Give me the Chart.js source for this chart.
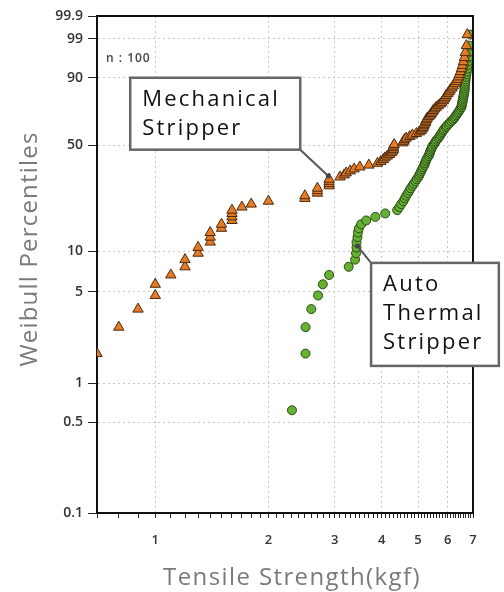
<!DOCTYPE html>
<html>
<head>
<meta charset="utf-8">
<script src="https://cdn.jsdelivr.net/npm/chart.js@4.4.1/dist/chart.umd.min.js"></script>
<style>
  html, body { margin: 0; padding: 0; background: #fff; }
  #wrap { width: 504px; height: 592px; }
</style>
</head>
<body>
<div id="wrap"><canvas id="weibullPlot"></canvas></div>
<script>
// sorted tensile strengths (kgf), n = 100 per group
const mechStrength = [
  0.65, 0.70, 0.80, 0.90, 1.00, 1.00, 1.10, 1.20, 1.20, 1.30,
  1.30, 1.40, 1.40, 1.40, 1.50, 1.50, 1.60, 1.60, 1.60, 1.60,
  1.70, 1.80, 2.00, 2.50, 2.50, 2.70, 2.70, 2.70, 2.90, 2.90,
  2.90, 2.90, 3.10, 3.18, 3.22, 3.30, 3.38, 3.50, 3.70, 3.90,
  3.98, 4.04, 4.08, 4.14, 4.20, 4.25, 4.28, 4.30, 4.30, 4.30,
  4.32, 4.55, 4.58, 4.60, 4.65, 4.75, 4.83, 4.95, 5.04, 5.10,
  5.13, 5.16, 5.18, 5.20, 5.23, 5.24, 5.26, 5.29, 5.34, 5.39,
  5.42, 5.46, 5.49, 5.54, 5.59, 5.66, 5.73, 5.78, 5.84, 5.87,
  5.91, 5.94, 6.00, 6.05, 6.09, 6.15, 6.20, 6.26, 6.32, 6.36,
  6.40, 6.44, 6.48, 6.52, 6.56, 6.60, 6.64, 6.68, 6.72, 6.76
];
const mechPercent = [
  0.70, 1.69, 2.69, 3.69, 4.68, 5.68, 6.67, 7.67, 8.67, 9.66,
  10.66, 11.65, 12.65, 13.65, 14.64, 15.64, 16.63, 17.63, 18.63, 19.62,
  20.62, 21.61, 22.61, 23.61, 24.60, 25.60, 26.59, 27.59, 28.59, 29.58,
  30.58, 31.57, 32.57, 33.57, 34.56, 35.56, 36.55, 37.55, 38.55, 39.54,
  40.54, 41.53, 42.53, 43.53, 44.52, 45.52, 46.51, 47.51, 48.51, 49.50,
  50.50, 51.49, 52.49, 53.49, 54.48, 55.48, 56.47, 57.47, 58.47, 59.46,
  60.46, 61.45, 62.45, 63.45, 64.44, 65.44, 66.43, 67.43, 68.43, 69.42,
  70.42, 71.41, 72.41, 73.41, 74.40, 75.40, 76.39, 77.39, 78.39, 79.38,
  80.38, 81.37, 82.37, 83.37, 84.36, 85.36, 86.35, 87.35, 88.35, 89.34,
  90.34, 91.33, 92.33, 93.33, 94.32, 95.32, 96.31, 97.31, 98.31, 99.30
];
const autoStrength = [
  2.31, 2.51, 2.51, 2.60, 2.71, 2.79, 2.90, 3.27, 3.40, 3.42,
  3.43, 3.43, 3.45, 3.46, 3.48, 3.53, 3.64, 3.85, 4.09, 4.40,
  4.46, 4.51, 4.57, 4.61, 4.65, 4.70, 4.74, 4.78, 4.83, 4.87,
  4.92, 4.96, 5.01, 5.04, 5.07, 5.10, 5.13, 5.16, 5.20, 5.21,
  5.24, 5.26, 5.29, 5.33, 5.36, 5.37, 5.39, 5.42, 5.44, 5.46,
  5.51, 5.54, 5.57, 5.61, 5.66, 5.70, 5.73, 5.77, 5.80, 5.84,
  5.87, 5.93, 5.96, 6.02, 6.07, 6.13, 6.19, 6.24, 6.28, 6.32,
  6.36, 6.40, 6.44, 6.48, 6.52, 6.53, 6.54, 6.56, 6.57, 6.58,
  6.60, 6.61, 6.62, 6.64, 6.65, 6.65, 6.66, 6.67, 6.68, 6.69,
  6.70, 6.72, 6.74, 6.76, 6.77, 6.78, 6.80, 6.82, 6.84, 6.89
];
const autoPercent = [
  0.62, 1.69, 2.69, 3.69, 4.68, 5.68, 6.67, 7.67, 8.67, 9.66,
  10.66, 11.65, 12.65, 13.65, 14.64, 15.64, 16.63, 17.63, 18.63, 19.62,
  20.62, 21.61, 22.61, 23.61, 24.60, 25.60, 26.59, 27.59, 28.59, 29.58,
  30.58, 31.57, 32.57, 33.57, 34.56, 35.56, 36.55, 37.55, 38.55, 39.54,
  40.54, 41.53, 42.53, 43.53, 44.52, 45.52, 46.51, 47.51, 48.51, 49.50,
  50.50, 51.49, 52.49, 53.49, 54.48, 55.48, 56.47, 57.47, 58.47, 59.46,
  60.46, 61.45, 62.45, 63.45, 64.44, 65.44, 66.43, 67.43, 68.43, 69.42,
  70.42, 71.41, 72.41, 73.41, 74.40, 75.40, 76.39, 77.39, 78.39, 79.38,
  80.38, 81.37, 82.37, 83.37, 84.36, 85.36, 86.35, 87.35, 88.35, 89.34,
  90.34, 91.33, 92.33, 93.33, 94.32, 95.32, 96.31, 97.31, 98.31, 99.30
];

const yTicks = [0.1, 0.5, 1, 5, 10, 50, 90, 99, 99.9];
const yTickLabels = ["0.1", "0.5", "1", "5", "10", "50", "90", "99", "99.9"];
const xTickLabels = [1, 2, 3, 4, 5, 6, 7];

// minor tick marks every 0.1 kgf from 0.7 to 7
const xMinorTicks = [];
for (let t = 7; t <= 70; t++) xMinorTicks.push(t / 10);

const callouts = [
  { lines: ["Mechanical", "Stripper"], box: [0.858, 90, 2.43, 47.3], corner: "br", target: [2.886, 33.1] },
  { lines: ["Auto", "Thermal", "Stripper"], box: [3.75, 8.2, 8.2, 1.36], corner: "tl", target: [3.45, 10.9] }
];

// Weibull probability axis: linear in ln(-ln(1-p))
const weib = p => Math.log(-Math.log(1 - p / 100));

class WeibullScale extends Chart.Scale {
  static id = "weibull";
  static defaults = {};
  determineDataLimits() {
    this.min = this.options.min;
    this.max = this.options.max;
  }
  buildTicks() {
    return yTicks.map(v => ({ value: v }));
  }
  getLabelForValue(v) {
    return String(v);
  }
  configure() {
    super.configure();
    this._lo = weib(this.min);
    this._hi = weib(this.max);
  }
  getPixelForValue(v) {
    return this.getPixelForDecimal((weib(v) - this._lo) / (this._hi - this._lo));
  }
  getValueForPixel(px) {
    const w = this._lo + this.getDecimalForPixel(px) * (this._hi - this._lo);
    return 100 * (1 - Math.exp(-Math.exp(w)));
  }
}
Chart.register(WeibullScale);

const decor = {
  id: "decor",
  afterDraw(chart) {
    const { ctx, chartArea: a, scales: { x, y } } = chart;
    ctx.save();

    // top and right frame
    ctx.strokeStyle = "#111";
    ctx.lineWidth = 2;
    ctx.beginPath();
    ctx.moveTo(a.left, a.top);
    ctx.lineTo(a.right, a.top);
    ctx.lineTo(a.right, a.bottom);
    ctx.stroke();

    // sample size
    ctx.fillStyle = "#444";
    ctx.font = "600 12px 'Open Sans'";
    ctx.letterSpacing = "1px";
    ctx.textBaseline = "alphabetic";
    ctx.textAlign = "left";
    ctx.fillText("n : 100", a.left + 9, a.top + 46);

    // callout boxes
    callouts.forEach(c => {
      const l = x.getPixelForValue(c.box[0]);
      const t = y.getPixelForValue(c.box[1]);
      const r = x.getPixelForValue(c.box[2]);
      const b = y.getPixelForValue(c.box[3]);
      const cx = c.corner === "br" ? r : l;
      const cy = c.corner === "br" ? b : t;
      const tx = x.getPixelForValue(c.target[0]);
      const ty = y.getPixelForValue(c.target[1]);

      ctx.strokeStyle = "#555";
      ctx.lineWidth = 2;
      ctx.beginPath();
      ctx.moveTo(cx, cy);
      ctx.lineTo(tx, ty);
      ctx.stroke();
      ctx.fillStyle = "#444";
      ctx.beginPath();
      ctx.arc(tx, ty, 2.5, 0, Math.PI * 2);
      ctx.fill();

      ctx.fillStyle = "#fff";
      ctx.fillRect(l, t, r - l, b - t);
      ctx.strokeStyle = "#666";
      ctx.lineWidth = 2.5;
      ctx.strokeRect(l, t, r - l, b - t);

      ctx.fillStyle = "#111";
      ctx.font = "22px 'Open Sans'";
      ctx.letterSpacing = "2.2px";
      c.lines.forEach((s, i) => ctx.fillText(s, l + 12, t + 28 + i * 29));
    });

    // axis titles
    ctx.fillStyle = "#7a7a7a";
    ctx.font = "24px 'Open Sans'";
    ctx.letterSpacing = "1.4px";
    ctx.textAlign = "center";
    ctx.fillText("Tensile Strength(kgf)", 292, 585);
    ctx.letterSpacing = "1.2px";
    ctx.translate(37, 249);
    ctx.rotate(-Math.PI / 2);
    ctx.fillText("Weibull Percentiles", 0, 0);

    ctx.restore();
  }
};

const toPoints = (xs, ps) => xs.map((v, i) => ({ x: v, y: ps[i] }));

new Chart(document.getElementById("weibullPlot"), {
  type: "scatter",
  data: {
    datasets: [
      {
        label: "Mechanical Stripper",
        data: toPoints(mechStrength, mechPercent),
        pointStyle: "triangle",
        pointRadius: 6,
        backgroundColor: "#e57c25",
        borderColor: "#4a2a10",
        borderWidth: 1,
        clip: 0
      },
      {
        label: "Auto Thermal Stripper",
        data: toPoints(autoStrength, autoPercent),
        pointStyle: "circle",
        pointRadius: 4.5,
        backgroundColor: "#66b032",
        borderColor: "#2a4a18",
        borderWidth: 1,
        clip: 0
      }
    ]
  },
  options: {
    responsive: true,
    maintainAspectRatio: false,
    animation: false,
    layout: { padding: { top: 16, right: 31, left: 0, bottom: 0 } },
    plugins: {
      legend: { display: false },
      tooltip: { enabled: false }
    },
    scales: {
      x: {
        type: "logarithmic",
        min: 0.7,
        max: 7,
        afterBuildTicks: s => { s.ticks = xMinorTicks.map(v => ({ value: v })); },
        afterFit: s => { s.height = 79; },
        border: { color: "#111", width: 2, dash: [2, 3] },
        grid: {
          color: c => (c.tick && xTickLabels.includes(c.tick.value) && c.tick.value !== 7) ? "#c8c8c8" : "rgba(0,0,0,0)",
          tickColor: "#222",
          tickLength: 5,
          lineWidth: 1
        },
        ticks: {
          autoSkip: false,
          maxRotation: 0,
          padding: 14,
          color: "#333",
          font: { family: "'Open Sans'", size: 13, weight: "600" },
          callback: v => xTickLabels.includes(v) ? String(v) : ""
        }
      },
      y: {
        type: "weibull",
        position: "left",
        min: 0.1,
        max: 99.9,
        afterFit: s => { s.width = 97; },
        border: { color: "#111", width: 2, dash: [2, 3] },
        grid: {
          color: c => (c.tick && c.tick.value !== 0.1 && c.tick.value !== 99.9) ? "#c8c8c8" : "rgba(0,0,0,0)",
          tickColor: "#222",
          tickLength: 9,
          lineWidth: 1
        },
        ticks: {
          padding: 5,
          color: "#333",
          font: { family: "'Open Sans'", size: 14, weight: "600" },
          callback: v => yTickLabels[yTicks.indexOf(v)]
        }
      }
    }
  },
  plugins: [decor]
});
</script>
</body>
</html>
